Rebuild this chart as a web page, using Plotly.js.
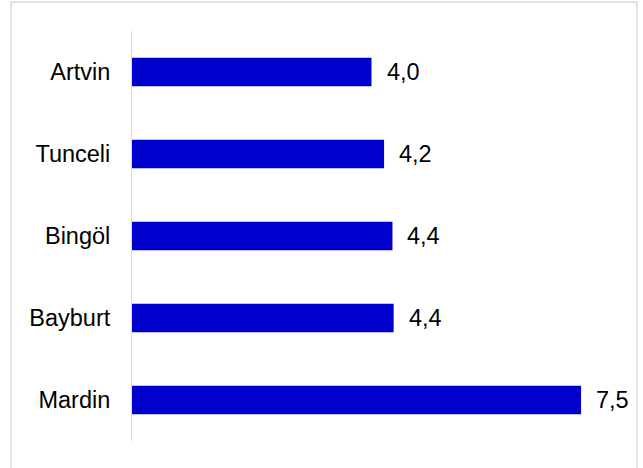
<!DOCTYPE html>
<html>
<head>
<meta charset="utf-8">
<script src="https://cdn.plot.ly/plotly-3.0.1.min.js"></script>
<style>html,body{margin:0;padding:0;background:#fff;}#chart{width:643px;height:468px;}</style>
</head>
<body>
<div id="chart"></div>
<script>
const categories = ["Artvin", "Tunceli", "Bingöl", "Bayburt", "Mardin"];
const values = [4.0, 4.21, 4.35, 4.37, 7.5];

const fmt = v => (Math.round(v * 10) / 10).toFixed(1).replace('.', ',');
const FONT = 'Liberation Sans, Arial, sans-serif';
const FS = 23.5;

const trace = {
  type: 'bar',
  orientation: 'h',
  y: categories,
  x: values,
  marker: {color: '#0000CC'},
  width: 0.35,
  hoverinfo: 'none'
};

const annotations = categories.map((c, i) => ({
  x: values[i], y: c, xref: 'x', yref: 'y',
  text: fmt(values[i]), showarrow: false,
  xanchor: 'left', xshift: 13,
  font: {family: FONT, size: FS, color: '#000'}
}));

const layout = {
  width: 643, height: 468,
  margin: {l: 132, r: 32, t: 31, b: 27},
  paper_bgcolor: '#fff', plot_bgcolor: '#fff',
  showlegend: false,
  font: {family: FONT, size: FS, color: '#000'},
  xaxis: {range: [0, 8], visible: false, fixedrange: true},
  yaxis: {
    autorange: 'reversed',
    showline: true, linecolor: '#d9d9d9', linewidth: 1,
    ticks: '', showgrid: false, zeroline: false,
    ticklabelstandoff: 16,
    tickfont: {family: FONT, size: FS, color: '#000'}
  },
  annotations: annotations,
  shapes: [{
    type: 'rect', xref: 'paper', yref: 'paper',
    xsizemode: 'pixel', ysizemode: 'pixel',
    xanchor: 0, yanchor: 1,
    x0: -121, x1: 505, y0: -445, y1: 29,
    line: {color: '#d9d9d9', width: 1.5}, fillcolor: 'rgba(0,0,0,0)'
  }]
};

Plotly.newPlot('chart', [trace], layout, {displayModeBar: false, staticPlot: true});
</script>
</body>
</html>
